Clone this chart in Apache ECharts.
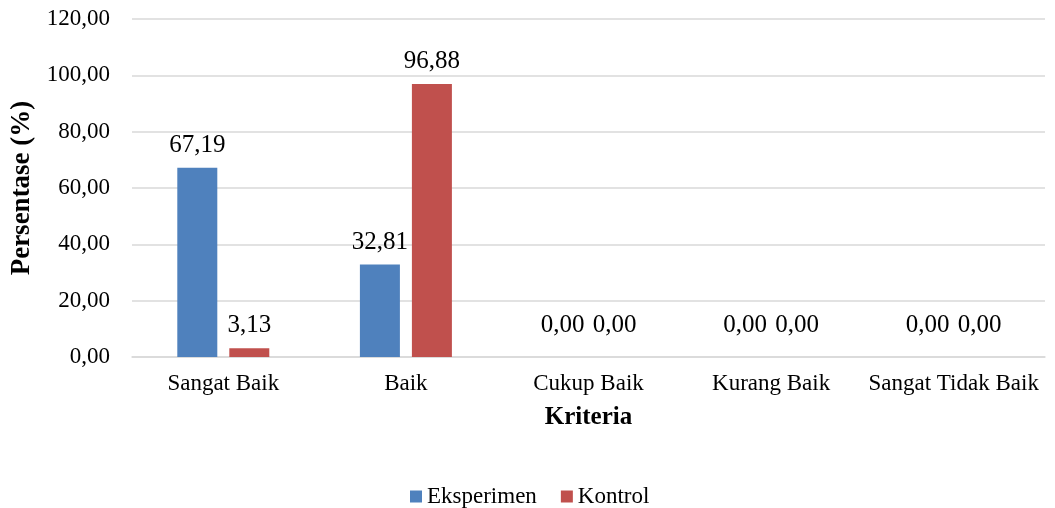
<!DOCTYPE html>
<html>
<head>
<meta charset="utf-8">
<script src="https://cdn.jsdelivr.net/npm/echarts@6/dist/echarts.min.js"></script>
<style>
html,body{margin:0;padding:0;background:#fff;}
#chart{width:1055px;height:508px;}
</style>
</head>
<body>
<div id="chart"></div>
<script>
const categories = ['Sangat Baik', 'Baik', 'Cukup Baik', 'Kurang Baik', 'Sangat Tidak Baik'];
const seriesNames = ['Eksperimen', 'Kontrol'];
const eksperimen = [67.19, 32.81, 0.00, 0.00, 0.00];
const kontrol = [3.13, 96.88, 0.00, 0.00, 0.00];
const yTicks = [0, 20, 40, 60, 80, 100, 120];

const FONT = '"Liberation Serif", "Times New Roman", serif';
const fmt = v => Number(v).toFixed(2).replace('.', ',');
const toItems = arr => arr.map(v => v === 0 ? {value: v, label: {distance: 19}} : v);

const chart = echarts.init(document.getElementById('chart'), null, {renderer: 'canvas'});
chart.setOption({
  animation: false,
  color: ['#4F81BD', '#C0504D'],
  textStyle: {fontFamily: FONT, color: '#000'},
  grid: {left: 132, right: 10, top: 19, bottom: 151, containLabel: false},
  legend: {
    data: seriesNames,
    left: 405,
    top: 480,
    itemWidth: 12,
    itemHeight: 12,
    itemGap: 24,
    icon: 'rect',
    textStyle: {fontFamily: FONT, fontSize: 23, color: '#000'}
  },
  xAxis: {
    type: 'category',
    data: categories,
    name: 'Kriteria',
    nameLocation: 'middle',
    nameGap: 48,
    nameTextStyle: {fontFamily: FONT, fontSize: 25, fontWeight: 'bold', color: '#000'},
    axisLine: {show: true, lineStyle: {color: '#d9d9d9', width: 1.5}},
    axisTick: {show: false},
    axisLabel: {interval: 0, fontFamily: FONT, fontSize: 23, color: '#000', margin: 15}
  },
  yAxis: {
    type: 'value',
    min: yTicks[0],
    max: yTicks[yTicks.length - 1],
    interval: yTicks[1] - yTicks[0],
    name: 'Persentase (%)',
    nameLocation: 'middle',
    nameGap: 94,
    nameRotate: 90,
    nameTextStyle: {fontFamily: FONT, fontSize: 27, fontWeight: 'bold', color: '#000'},
    axisLine: {show: false},
    axisTick: {show: false},
    splitLine: {show: true, lineStyle: {color: '#d9d9d9', width: 1.5}},
    axisLabel: {fontFamily: FONT, fontSize: 23, color: '#000', margin: 22, formatter: fmt}
  },
  series: [
    {
      name: seriesNames[0],
      type: 'bar',
      data: toItems(eksperimen),
      barWidth: 40,
      barGap: '30%',
      label: {show: true, position: 'top', distance: 10, fontFamily: FONT, fontSize: 25, color: '#000', formatter: p => fmt(p.value)}
    },
    {
      name: seriesNames[1],
      type: 'bar',
      data: toItems(kontrol),
      barWidth: 40,
      barGap: '30%',
      label: {show: true, position: 'top', distance: 10, fontFamily: FONT, fontSize: 25, color: '#000', formatter: p => fmt(p.value)}
    }
  ]
});
</script>
</body>
</html>
